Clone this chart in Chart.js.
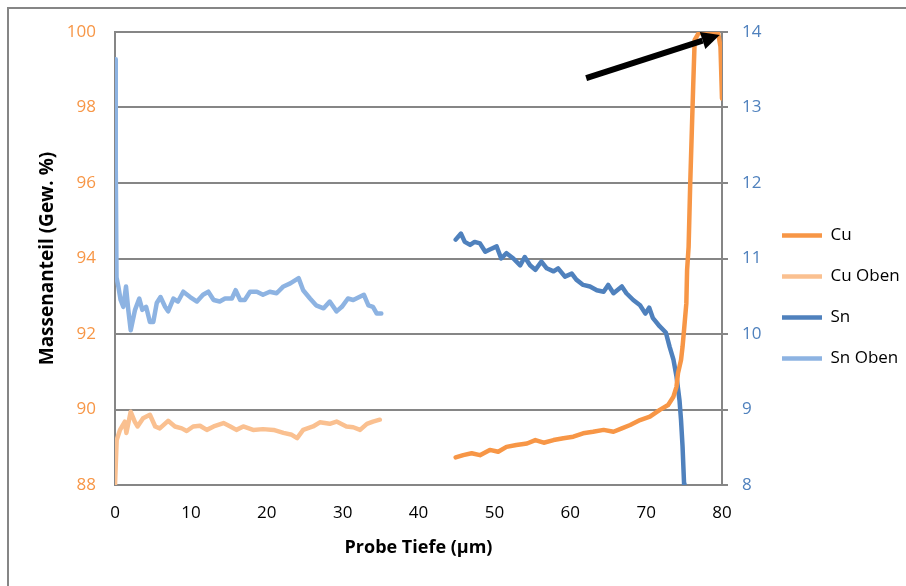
<!DOCTYPE html>
<html>
<head>
<meta charset="utf-8">
<script src="https://cdn.jsdelivr.net/npm/chart.js@4.4.0/dist/chart.umd.min.js"></script>
<style>
  html, body { margin: 0; padding: 0; background: #fff; }
  #wrap { position: relative; width: 906px; height: 586px; overflow: hidden; }
  #frame { position: absolute; left: 7px; top: 7px; width: 1000px; height: 1000px;
           border-left: 2px solid #868686; border-top: 2px solid #868686; }
  canvas { position: absolute; left: 0; top: 0; }
</style>
</head>
<body>
<div id="wrap">
  <div id="frame"></div>
  <canvas id="chart" width="906" height="586"></canvas>
</div>
<script>
// Probe depth (µm) and mass fractions
const cuX = [44.9, 45.9, 47.0, 48.1, 49.4, 50.5, 51.6, 52.9, 54.3, 55.4, 56.5, 57.8, 59.1, 60.4, 61.7,
             63.0, 64.4, 65.7, 66.8, 67.9, 69.2, 70.5, 71.8, 72.9, 73.6, 74.0, 74.2, 74.6, 74.8, 75.0,
             75.3, 75.4, 75.6, 75.8, 76.2, 76.4, 76.9, 78.0, 79.5, 79.8, 80.0];
const cuY = [88.73, 88.79, 88.84, 88.79, 88.93, 88.88, 89.01, 89.06, 89.10, 89.19, 89.12, 89.19, 89.24, 89.28, 89.37,
             89.41, 89.46, 89.41, 89.50, 89.59, 89.72, 89.81, 89.99, 90.12, 90.34, 90.60, 90.96, 91.31, 91.66, 92.11,
             92.81, 93.70, 94.31, 95.90, 98.55, 99.79, 99.96, 100.02, 99.96, 99.61, 98.24];

const cuObenX = [0, 0.22, 0.66, 1.3, 1.5, 2.07, 2.6, 2.97, 3.7, 4.6, 5.3, 5.9, 7.0, 7.9, 8.8, 9.45, 10.3, 11.2,
                 12.1, 13.0, 14.3, 15.2, 16.0, 16.9, 18.2, 19.5, 20.9, 22.2, 23.3, 24.0, 24.8, 26.1, 27.0, 28.3,
                 29.2, 30.5, 31.4, 32.3, 33.2, 34.0, 34.9];
const cuObenY = [88.0, 89.19, 89.46, 89.68, 89.38, 89.94, 89.68, 89.55, 89.77, 89.86, 89.55, 89.5, 89.7, 89.55,
                 89.5, 89.43, 89.55, 89.57, 89.46, 89.55, 89.64, 89.55, 89.46, 89.55, 89.46, 89.48, 89.46, 89.38,
                 89.33, 89.24, 89.46, 89.55, 89.66, 89.62, 89.68, 89.55, 89.53, 89.46, 89.62, 89.68, 89.73];

const snX = [44.9, 45.6, 46.1, 46.8, 47.4, 48.1, 48.8, 49.4, 50.3, 50.9, 51.6, 52.5, 53.4, 54.0, 54.7, 55.4,
             56.2, 56.9, 57.8, 58.4, 59.3, 60.2, 60.8, 61.7, 62.6, 63.5, 64.4, 65.0, 65.7, 66.8, 67.4, 68.3,
             69.2, 69.9, 70.4, 70.9, 71.8, 72.6, 73.1, 73.6, 74.0, 74.4, 74.6, 74.8, 75.0, 75.05];
const snY = [11.25, 11.33, 11.22, 11.18, 11.22, 11.20, 11.09, 11.12, 11.16, 11.00, 11.07, 11.00, 10.91, 11.02,
             10.91, 10.85, 10.96, 10.87, 10.83, 10.87, 10.76, 10.80, 10.72, 10.65, 10.63, 10.58, 10.56, 10.65,
             10.54, 10.63, 10.54, 10.45, 10.38, 10.27, 10.35, 10.21, 10.10, 10.02, 9.83, 9.66, 9.44, 9.12,
             8.86, 8.51, 8.02, 7.9];

const snObenX = [0, 0.1, 0.2, 0.44, 0.74, 1.1, 1.45, 1.75, 2.07, 2.64, 3.2, 3.6, 4.1, 4.6, 5.05, 5.5, 6.0,
                 6.6, 7.0, 7.7, 8.3, 9.0, 9.9, 10.8, 11.6, 12.3, 13.0, 13.8, 14.5, 15.4, 15.9, 16.5, 17.1,
                 17.8, 18.7, 19.5, 20.4, 21.3, 22.2, 23.1, 24.2, 24.8, 25.7, 26.5, 27.5, 28.3, 29.2, 29.9,
                 30.7, 31.4, 32.8, 33.4, 34.0, 34.5, 35.1];
const snObenY = [13.64, 12.2, 10.75, 10.63, 10.45, 10.36, 10.63, 10.32, 10.05, 10.32, 10.47, 10.32, 10.36,
                 10.16, 10.16, 10.41, 10.49, 10.36, 10.30, 10.47, 10.43, 10.56, 10.49, 10.43, 10.52, 10.56,
                 10.45, 10.43, 10.47, 10.47, 10.58, 10.45, 10.45, 10.56, 10.56, 10.52, 10.56, 10.54, 10.63,
                 10.67, 10.74, 10.58, 10.47, 10.38, 10.34, 10.43, 10.30, 10.36, 10.47, 10.45, 10.52, 10.38,
                 10.36, 10.27, 10.27];

// arrow annotation, in data units (depth, Cu axis)
const arrowFrom = [62.1, 98.78];
const arrowTo = [79.7, 99.92];

const toPoints = (xs, ys) => xs.map((x, i) => ({x: x, y: ys[i]}));

Chart.defaults.font.family = '"Open Sans", sans-serif';

const gridGray = '#868686';
const lineW = 4.5;
const tickFont = {size: 17};
const titleFont = {size: 18, weight: 'bold'};

const arrowPlugin = {
    id: 'arrow',
    afterDatasetsDraw(chart) {
        const {ctx, scales: {x, y}} = chart;
        const x1 = x.getPixelForValue(arrowFrom[0]), y1 = y.getPixelForValue(arrowFrom[1]);
        const x2 = x.getPixelForValue(arrowTo[0]), y2 = y.getPixelForValue(arrowTo[1]);
        const a = Math.atan2(y2 - y1, x2 - x1);
        const head = 18, half = 9;
        const bx = x2 - head * Math.cos(a), by = y2 - head * Math.sin(a);
        ctx.save();
        ctx.strokeStyle = '#000';
        ctx.fillStyle = '#000';
        ctx.lineWidth = 6;
        ctx.beginPath();
        ctx.moveTo(x1, y1);
        ctx.lineTo(bx, by);
        ctx.stroke();
        ctx.beginPath();
        ctx.moveTo(x2, y2);
        ctx.lineTo(bx - half * Math.sin(a), by + half * Math.cos(a));
        ctx.lineTo(bx + half * Math.sin(a), by - half * Math.cos(a));
        ctx.closePath();
        ctx.fill();
        ctx.restore();
    }
};

// nudge the legend so its items sit next to the right axis labels
const legendShift = {
    id: 'legendShift',
    afterLayout(chart) {
        const lg = chart.legend;
        if (!lg) return;
        lg.left -= lg.options.labels.padding;
        lg.top += 3;
    }
};

const ctx = document.getElementById('chart').getContext('2d');
new Chart(ctx, {
    type: 'line',
    data: {
        datasets: [
            {
                label: 'Cu',
                data: toPoints(cuX, cuY),
                borderColor: '#F79646',
                yAxisID: 'y'
            },
            {
                label: 'Cu Oben',
                data: toPoints(cuObenX, cuObenY),
                borderColor: '#FAC090',
                yAxisID: 'y'
            },
            {
                label: 'Sn',
                data: toPoints(snX, snY),
                borderColor: '#4F81BD',
                yAxisID: 'y2'
            },
            {
                label: 'Sn Oben',
                data: toPoints(snObenX, snObenY),
                borderColor: '#8DB3E2',
                yAxisID: 'y2'
            }
        ]
    },
    options: {
        responsive: false,
        animation: false,
        layout: {padding: {left: 36, top: 32, right: 0, bottom: 27}},
        elements: {
            point: {radius: 0, borderWidth: lineW},
            line: {tension: 0, borderWidth: lineW, borderCapStyle: 'round', borderJoinStyle: 'round'}
        },
        plugins: {
            tooltip: {enabled: false},
            legend: {
                position: 'right',
                maxWidth: 124,
                labels: {
                    usePointStyle: true,
                    pointStyle: 'line',
                    pointStyleWidth: 40,
                    padding: 24,
                    color: '#000',
                    font: {size: 17}
                }
            }
        },
        scales: {
            x: {
                type: 'linear',
                min: 0,
                max: 80,
                ticks: {stepSize: 10, color: '#000', font: tickFont, padding: 18},
                grid: {display: false, drawTicks: false},
                border: {color: gridGray, width: 2},
                title: {display: true, text: 'Probe Tiefe (µm)', color: '#000', font: titleFont, padding: 0},
                afterFit: s => { s.height = 74; }
            },
            y: {
                position: 'left',
                min: 88,
                max: 100,
                ticks: {stepSize: 2, color: '#F79646', font: tickFont, padding: 19},
                grid: {color: gridGray, lineWidth: 2, drawTicks: false},
                border: {color: gridGray, width: 2},
                title: {display: true, text: 'Massenanteil (Gew. %)', color: '#000',
                        font: {size: 19, weight: 'bold'}, padding: 0},
                afterFit: s => { s.width = 79; }
            },
            y2: {
                position: 'right',
                min: 8,
                max: 14,
                ticks: {stepSize: 1, color: '#4F81BD', font: tickFont, padding: 14},
                grid: {drawOnChartArea: false, color: gridGray, lineWidth: 2, tickLength: 6},
                border: {color: gridGray, width: 2},
                afterFit: s => { s.width = 60; }
            }
        }
    },
    plugins: [arrowPlugin, legendShift]
});
</script>
</body>
</html>
